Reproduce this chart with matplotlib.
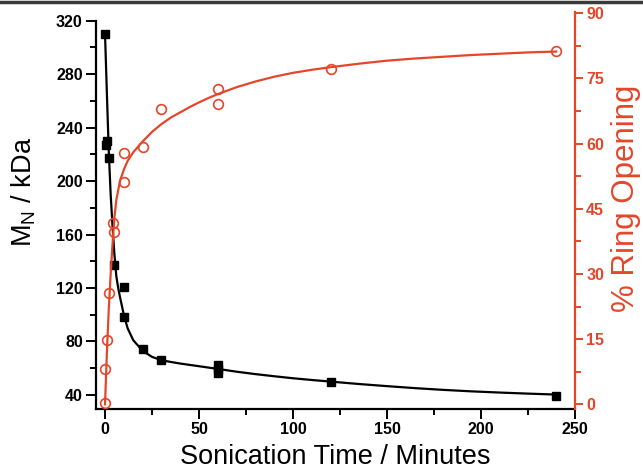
import matplotlib
matplotlib.use("Agg")
import matplotlib.pyplot as plt
from matplotlib.lines import Line2D
from matplotlib.ticker import MultipleLocator

plt.rcParams['font.family'] = ['Liberation Sans', 'DejaVu Sans']

# Molecular weight data (squares, left axis)
mw_time = [0, 0.5, 1, 2, 5, 10, 10, 20, 30, 60, 60, 60, 120, 240]
mw_kda = [310, 227, 230, 217, 137, 121, 98.6, 74.2, 66.2, 62.4, 59.5, 56.7, 49.5, 39.5]

# Ring opening data (circles, right axis)
ro_time = [0, 0, 1, 2, 4.5, 5, 10, 10, 20, 30, 60, 60, 120, 240]
ro_pct = [0.2, 8.1, 14.8, 25.7, 41.8, 39.7, 51.2, 57.8, 59.2, 67.9, 72.5, 69.1, 77.1, 81.4]

# Fit curves
mw_fit_x = [0, 1, 2, 3, 4, 5, 6, 7, 8, 10, 12, 15, 20, 25, 30, 35, 40, 45, 50, 60, 70,
            80, 90, 100, 110, 120, 135, 150, 165, 180, 195, 210, 225, 240]
mw_fit_y = [310, 265, 222, 190, 166, 145, 129, 120, 113, 100, 90, 81, 73, 68.5, 66, 64.7,
            63.5, 62.5, 61.5, 59.5, 57.4, 55.6, 54, 52.5, 51.2, 50, 48.2, 46.6, 45.1,
            43.8, 42.7, 41.8, 41, 40.3]

ro_fit_x = [0, 1, 2, 3, 4, 5, 6, 8, 10, 12, 15, 20, 25, 30, 35, 40, 45, 50, 55, 60, 70,
            80, 90, 100, 110, 120, 135, 150, 165, 180, 195, 210, 225, 240]
ro_fit_y = [0, 12, 22, 30, 37, 43, 47, 51.5, 54, 56, 58, 60.5, 62.7, 64.5, 66, 67.2,
            68.4, 69.5, 70.5, 71.4, 73.0, 74.3, 75.4, 76.3, 77.0, 77.6, 78.4, 79.1,
            79.6, 80.0, 80.4, 80.7, 81.0, 81.2]

RED = '#e5462a'

fig = plt.figure(figsize=(6.43, 4.71), dpi=100)
ax = fig.add_axes([96/643, 1 - 409/471, (575 - 96)/643, (409 - 12)/471])
ax2 = ax.twinx()

ax.plot(mw_fit_x, mw_fit_y, color='black', lw=1.6, zorder=2)
ax.plot(mw_time, mw_kda, ls='none', marker='s', ms=6.2, color='black', zorder=3)

ax2.plot(ro_fit_x, ro_fit_y, color=RED, lw=1.6, zorder=2)
ax2.plot(ro_time, ro_pct, ls='none', marker='o', ms=7, mfc='none', mec=RED, mew=1.2, zorder=3)

ax.set_xlim(-4.8, 250)
ax.set_ylim(29.5, 326.5)
ax2.set_ylim(-1.08, 90.3)

ax.xaxis.set_major_locator(MultipleLocator(50))
ax.xaxis.set_minor_locator(MultipleLocator(25))
ax.yaxis.set_major_locator(MultipleLocator(40))
ax.yaxis.set_minor_locator(MultipleLocator(20))
ax2.yaxis.set_major_locator(MultipleLocator(15))
ax2.yaxis.set_minor_locator(MultipleLocator(7.5))

for a in (ax, ax2):
    a.spines['top'].set_visible(False)
    a.patch.set_visible(False)
ax.spines['right'].set_visible(False)
ax2.spines['left'].set_visible(False)
ax2.spines['bottom'].set_visible(False)
ax.spines['left'].set_bounds(29.5, 320)
ax.spines['left'].set_linewidth(1.6)
ax.spines['bottom'].set_linewidth(1.6)
ax2.spines['right'].set_color(RED)
ax2.spines['right'].set_linewidth(1.6)

ax.tick_params(axis='both', which='major', length=7, width=1.4, direction='out',
               labelsize=11.5, pad=2.5)
ax.tick_params(axis='both', which='minor', length=4, width=1.4, direction='out')
ax2.tick_params(axis='y', which='major', length=6, width=1.4, direction='out',
                colors=RED, labelsize=11.5, pad=2)
ax2.tick_params(axis='y', which='minor', length=4, width=1.4, direction='out', colors=RED)

for lab in ax.get_xticklabels() + ax.get_yticklabels() + ax2.get_yticklabels():
    lab.set_fontweight('bold')

ax.set_xlabel('Sonication Time / Minutes', fontsize=19.5)
ax.xaxis.set_label_coords(0.5, (409 - 444) / 397)
ax.set_ylabel('M$_\\mathregular{N}$ / kDa', fontsize=19.5)
ax.yaxis.set_label_coords((24 - 96) / 479, (409 - 192) / 397)
ax.yaxis.label.set_verticalalignment('center')
ax2.set_ylabel('% Ring Opening', fontsize=22.5, color=RED)
ax2.yaxis.set_label_coords((626 - 96) / 479, (409 - 198) / 397)
ax2.yaxis.label.set_verticalalignment('center')

fig.add_artist(Line2D([0, 1], [1 - 1.5/471, 1 - 1.5/471], transform=fig.transFigure,
                      color='#3a3a3a', lw=2.5))

fig.savefig('out.png', dpi=100)
